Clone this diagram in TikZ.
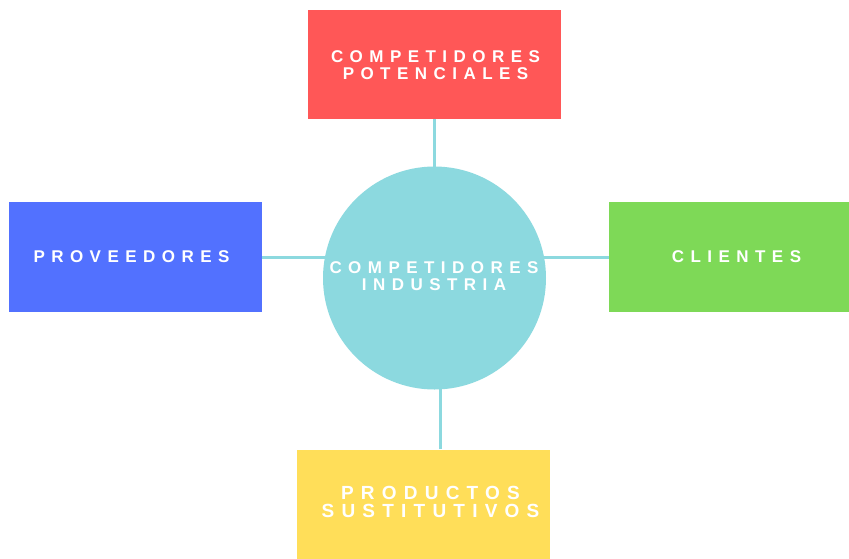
\documentclass[tikz,border=0pt]{standalone}
\usepackage{fontspec}
\setmainfont{Liberation Sans}
\newfontfamily\spacedfont[LetterSpace=38]{Liberation Sans}
\usetikzlibrary{backgrounds}

\definecolor{potred}{HTML}{FF5757}
\definecolor{provblue}{HTML}{5271FF}
\definecolor{cligreen}{HTML}{7ED957}
\definecolor{subyellow}{HTML}{FFDE59}
\definecolor{hubteal}{HTML}{8CD9DF}

\tikzset{
  forcebox/.style={rectangle, draw=none, minimum width=253pt, minimum height=110pt, inner sep=0pt},
  hubdisc/.style={circle, fill=hubteal, draw=none, minimum size=223pt, inner sep=0pt},
  caption/.style={text=white, align=center, inner sep=0pt,
    font=\spacedfont\bfseries\fontsize{17}{16.7}\selectfont},
  bigcaption/.style={caption, font=\spacedfont\bfseries\fontsize{19}{17.4}\selectfont},
  link/.style={draw=hubteal, line width=3pt}
}

\begin{document}
\begin{tikzpicture}[x=1pt, y=-1pt]
  \useasboundingbox (0,0) rectangle (849,558);
  \clip (0,0) rectangle (849,558);

  % the five forces
  \node[forcebox, fill=potred, minimum height=109pt] (pot) at (434.5,64.5) {};
  \node[forcebox, fill=provblue] (prov) at (135.5,257) {};
  \node[forcebox, fill=cligreen] (cli) at (735.5,257) {};
  \node[forcebox, fill=subyellow] (sust) at (423.5,504.5) {};
  \node[hubdisc] (hub) at (434.5,278) {};

  % white page and the links to the centre, underneath everything
  \begin{scope}[on background layer]
    \fill[white] (0,0) rectangle (849,558);
    \draw[link] (pot.south) -- (hub.center);
    \draw[link] (prov.east) -- (prov.east -| hub.center);
    \draw[link] (cli.west) -- (cli.west -| hub.center);
    \draw[link] ([xshift=16.5pt]sust.north) -- ([xshift=16.5pt]sust.north |- hub.center);
  \end{scope}

  % captions
  \node[caption] (pottxt) at (435.5,65.2) {COMPETIDORES\\POTENCIALES};
  \node[caption] (provtxt) at (131.5,257) {PROVEEDORES};
  \node[caption] (clitxt) at (736.5,257) {CLIENTES};
  \node[caption] (hubtxt) at (434,276.3) {COMPETIDORES\\INDUSTRIA};
  \node[bigcaption] (susttxt) at (430.5,501.9) {PRODUCTOS\\SUSTITUTIVOS};
\end{tikzpicture}
\end{document}
